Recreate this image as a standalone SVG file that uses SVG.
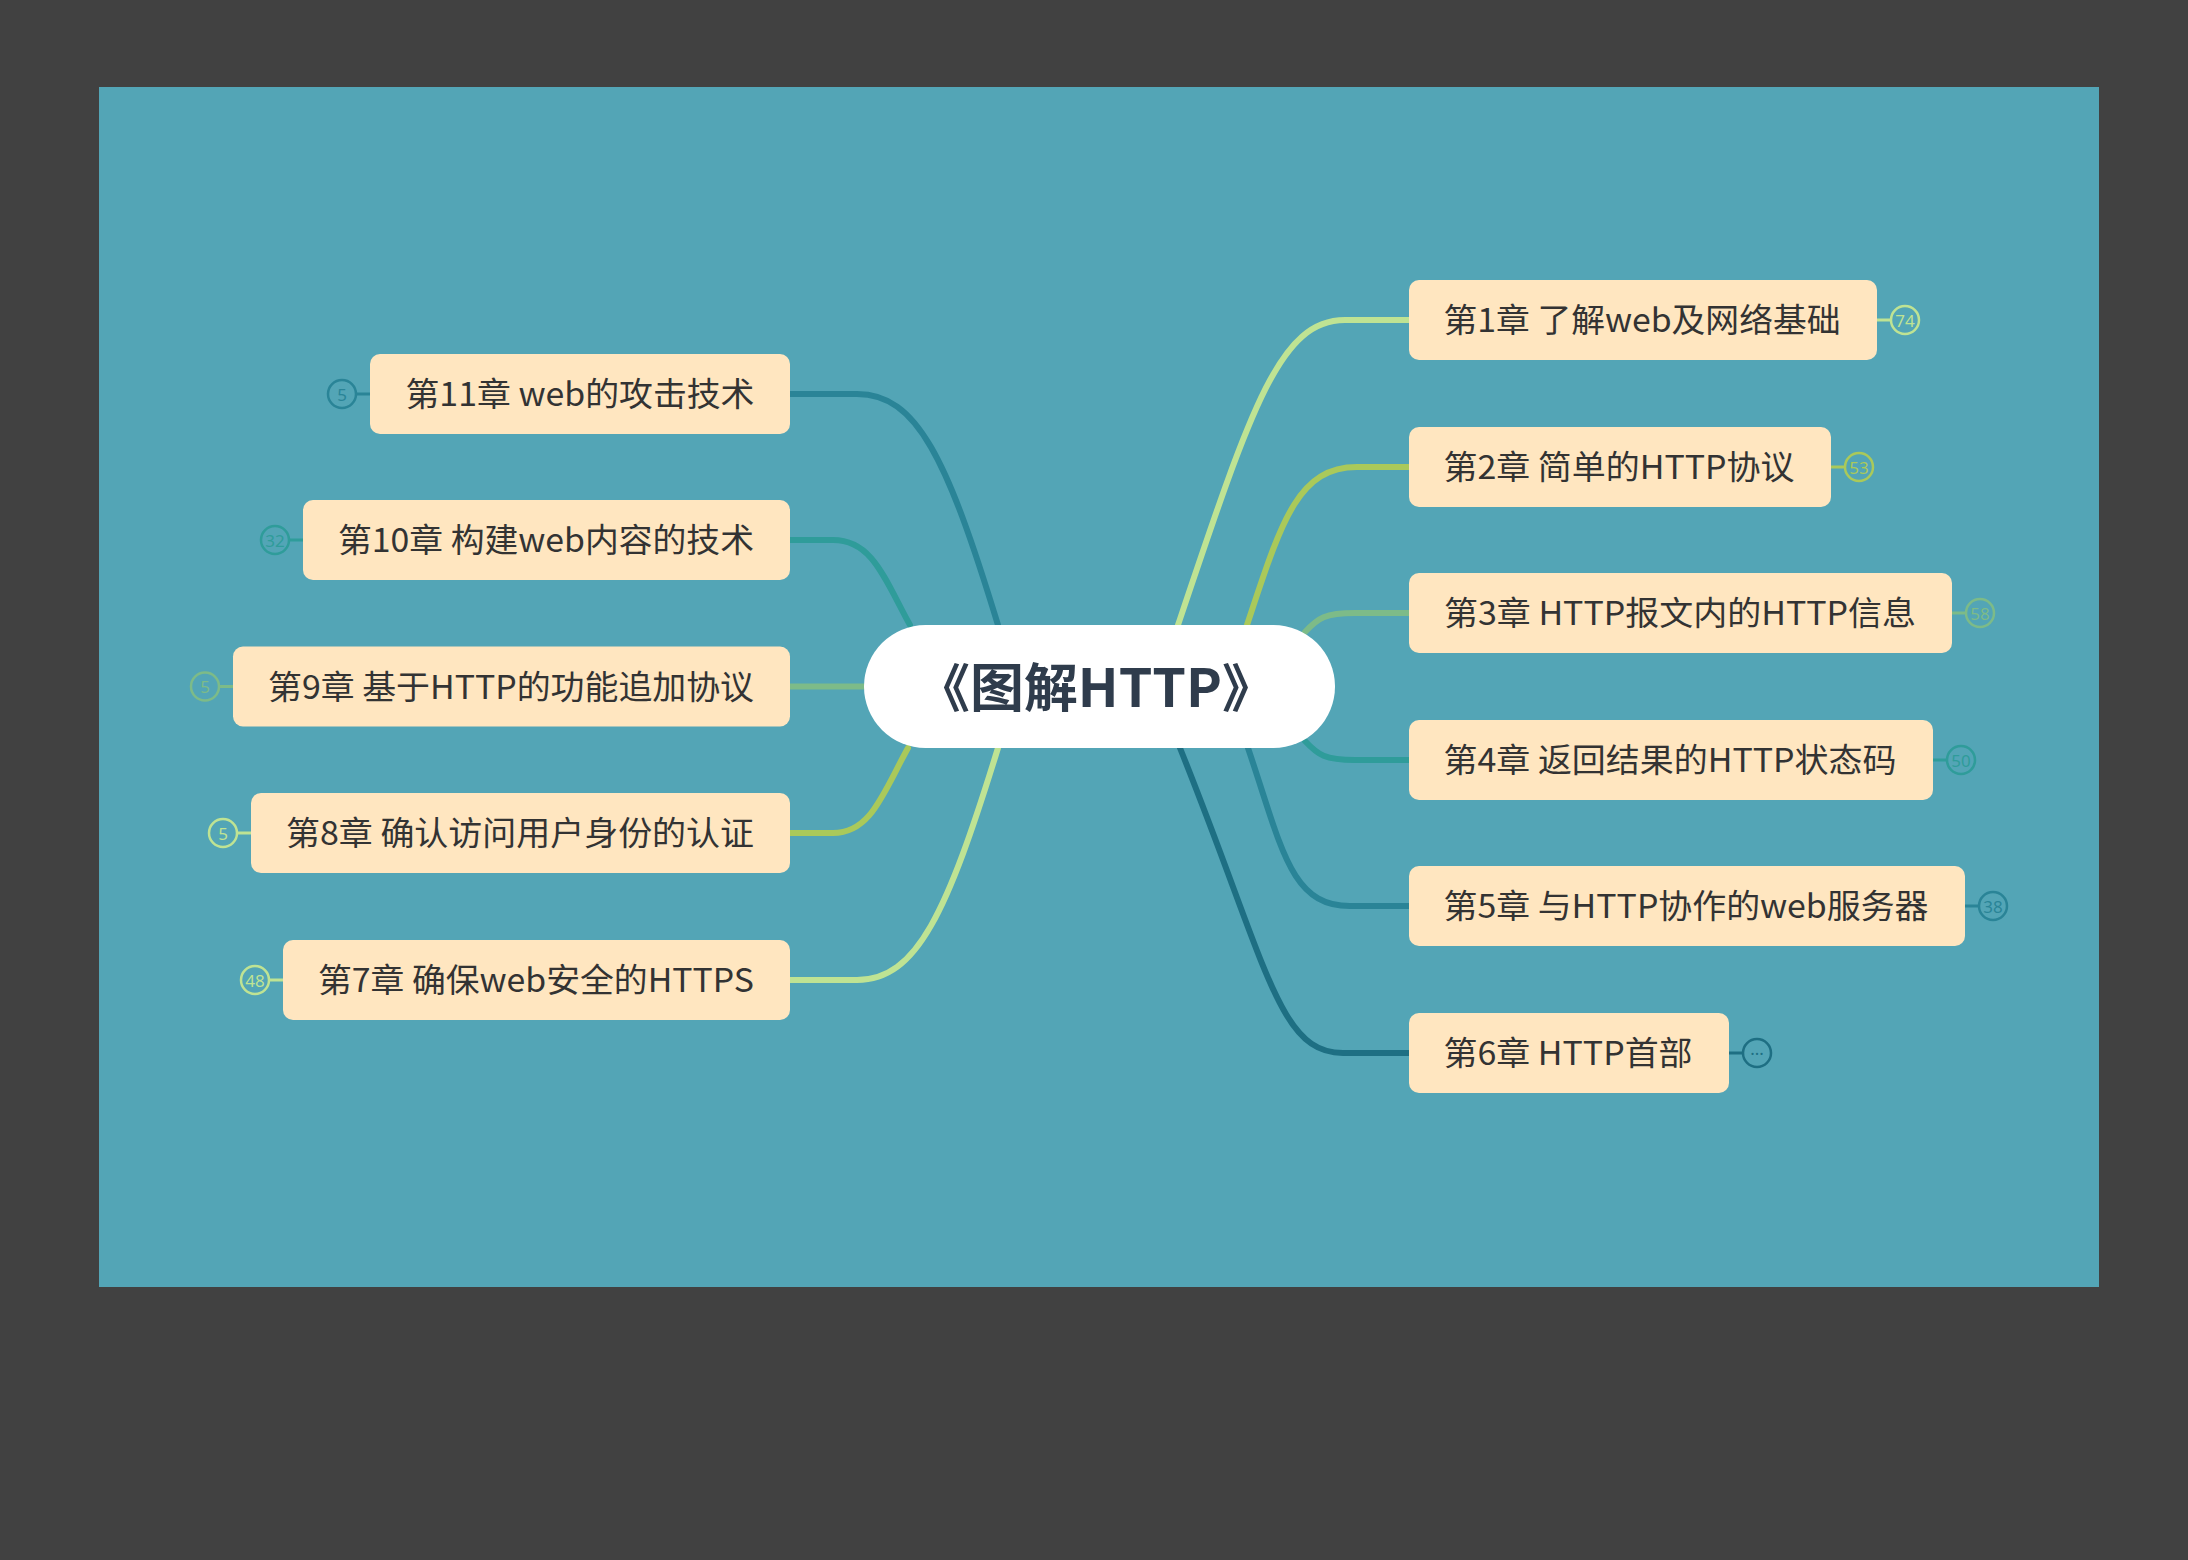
<svg xmlns="http://www.w3.org/2000/svg" width="2188" height="1560" viewBox="0 0 2188 1560">
<style>
.node rect{fill:#FFE6C0}
.node text{font-family:"Noto Sans CJK SC","Noto Sans",sans-serif;font-size:33px;fill:#333333;text-anchor:middle;dominant-baseline:central}
.link{fill:none;stroke-width:6;stroke-linecap:round}
.badge circle{fill:none;stroke-width:2.5}
.badge line{stroke-width:3}
.badge text{font-family:"Noto Sans","DejaVu Sans",sans-serif;font-size:17px;text-anchor:middle;dominant-baseline:central}
.c1{stroke:#BFE393}.t1{fill:#BFE393}
.c2{stroke:#AAC95A}.t2{fill:#AAC95A}
.c3{stroke:#7DBB88}.t3{fill:#7DBB88}
.c4{stroke:#2F9C9A}.t4{fill:#2F9C9A}
.c5{stroke:#2A8497}.t5{fill:#2A8497}
.c6{stroke:#1E6F83}.t6{fill:#1E6F83}
</style>
<rect x="0" y="0" width="2188" height="1560" fill="#414141"/>
<rect x="99" y="87" width="2000" height="1200" fill="#53A5B6"/>
<g id="connectors">
<path class="link c1" d="M1178,625 C1252,405 1280,320 1345,320 L1409,320"/>
<path class="link c2" d="M1247,625 C1281,523 1297,467 1357,467 L1409,467"/>
<path class="link c3" d="M1305,632 C1318,618 1325,613 1355,613 L1409,613"/>
<path class="link c4" d="M1305,741 C1318,755 1325,760 1355,760 L1409,760"/>
<path class="link c5" d="M1248,748 C1282,848 1290,906 1350,906 L1409,906"/>
<path class="link c6" d="M1180,748 C1268,967 1278,1053 1343,1053 L1409,1053"/>
<path class="link c5" d="M998,625 C947,458 917,394 857,394 L790,394"/>
<path class="link c4" d="M910,625 C885,580 873,540 833,540 L790,540"/>
<path class="link c3" d="M864,686.5 L790,686.5"/>
<path class="link c2" d="M908,748 C883,793 871,833 833,833 L790,833"/>
<path class="link c1" d="M998,748 C947,913 917,980 857,980 L790,980"/>
</g>
<g id="root">
<rect x="864" y="625" width="471" height="123" rx="61.5" fill="#FFFFFF"/>
<text x="1096" y="684" font-family="Noto Sans CJK SC,Noto Sans,sans-serif" font-size="52" font-weight="bold" fill="#2F3C4C" text-anchor="middle" dominant-baseline="central" textLength="360" lengthAdjust="spacingAndGlyphs">《图解HTTP》</text>
</g>
<g id="n1" class="node"><rect x="1409" y="280" width="468" height="80" rx="10"/><text x="1642" y="318" textLength="397" lengthAdjust="spacingAndGlyphs">第1章 了解web及网络基础</text></g>
<g id="n2" class="node"><rect x="1409" y="427" width="422" height="80" rx="10"/><text x="1619" y="465" textLength="351" lengthAdjust="spacingAndGlyphs">第2章 简单的HTTP协议</text></g>
<g id="n3" class="node"><rect x="1409" y="573" width="543" height="80" rx="10"/><text x="1680" y="611" textLength="472" lengthAdjust="spacingAndGlyphs">第3章 HTTP报文内的HTTP信息</text></g>
<g id="n4" class="node"><rect x="1409" y="720" width="524" height="80" rx="10"/><text x="1670" y="758" textLength="453" lengthAdjust="spacingAndGlyphs">第4章 返回结果的HTTP状态码</text></g>
<g id="n5" class="node"><rect x="1409" y="866" width="556" height="80" rx="10"/><text x="1686" y="904" textLength="485" lengthAdjust="spacingAndGlyphs">第5章 与HTTP协作的web服务器</text></g>
<g id="n6" class="node"><rect x="1409" y="1013" width="320" height="80" rx="10"/><text x="1568" y="1051" textLength="249" lengthAdjust="spacingAndGlyphs">第6章 HTTP首部</text></g>
<g id="n11" class="node"><rect x="370" y="354" width="420" height="80" rx="10"/><text x="580" y="392" textLength="349" lengthAdjust="spacingAndGlyphs">第11章 web的攻击技术</text></g>
<g id="n10" class="node"><rect x="303" y="500" width="487" height="80" rx="10"/><text x="546" y="538" textLength="416" lengthAdjust="spacingAndGlyphs">第10章 构建web内容的技术</text></g>
<g id="n9" class="node"><rect x="233" y="646.5" width="557" height="80" rx="10"/><text x="511" y="684.5" textLength="486" lengthAdjust="spacingAndGlyphs">第9章 基于HTTP的功能追加协议</text></g>
<g id="n8" class="node"><rect x="251" y="793" width="539" height="80" rx="10"/><text x="520" y="831" textLength="468" lengthAdjust="spacingAndGlyphs">第8章 确认访问用户身份的认证</text></g>
<g id="n7" class="node"><rect x="283" y="940" width="507" height="80" rx="10"/><text x="536" y="978" textLength="436" lengthAdjust="spacingAndGlyphs">第7章 确保web安全的HTTPS</text></g>
<g id="badges">
<g id="b1" class="badge"><line class="c1" x1="1877" y1="320" x2="1890" y2="320"/><circle class="c1" cx="1905" cy="320" r="14"/><text class="t1" x="1905" y="320">74</text></g>
<g id="b2" class="badge"><line class="c2" x1="1831" y1="467" x2="1844" y2="467"/><circle class="c2" cx="1859" cy="467" r="14"/><text class="t2" x="1859" y="467">53</text></g>
<g id="b3" class="badge"><line class="c3" x1="1952" y1="613" x2="1966" y2="613"/><circle class="c3" cx="1980" cy="613" r="14"/><text class="t3" x="1980" y="613">58</text></g>
<g id="b4" class="badge"><line class="c4" x1="1933" y1="760" x2="1947" y2="760"/><circle class="c4" cx="1961" cy="760" r="14"/><text class="t4" x="1961" y="760">50</text></g>
<g id="b5" class="badge"><line class="c5" x1="1965" y1="906" x2="1979" y2="906"/><circle class="c5" cx="1993" cy="906" r="14"/><text class="t5" x="1993" y="906">38</text></g>
<g id="b6" class="badge"><line class="c6" x1="1729" y1="1053" x2="1743" y2="1053"/><circle class="c6" cx="1757" cy="1053" r="14"/><text class="t6" x="1757" y="1053">···</text></g>
<g id="b11" class="badge"><line class="c5" x1="370" y1="394" x2="356" y2="394"/><circle class="c5" cx="342" cy="394" r="14"/><text class="t5" x="342" y="394">5</text></g>
<g id="b10" class="badge"><line class="c4" x1="303" y1="540" x2="289" y2="540"/><circle class="c4" cx="275" cy="540" r="14"/><text class="t4" x="275" y="540">32</text></g>
<g id="b9" class="badge"><line class="c3" x1="233" y1="686.5" x2="219" y2="686.5"/><circle class="c3" cx="205" cy="686.5" r="14"/><text class="t3" x="205" y="686.5">5</text></g>
<g id="b8" class="badge"><line class="c1" x1="251" y1="833" x2="237" y2="833"/><circle class="c1" cx="223" cy="833" r="14"/><text class="t1" x="223" y="833">5</text></g>
<g id="b7" class="badge"><line class="c1" x1="283" y1="980" x2="269" y2="980"/><circle class="c1" cx="255" cy="980" r="14"/><text class="t1" x="255" y="980">48</text></g>
</g>
</svg>
